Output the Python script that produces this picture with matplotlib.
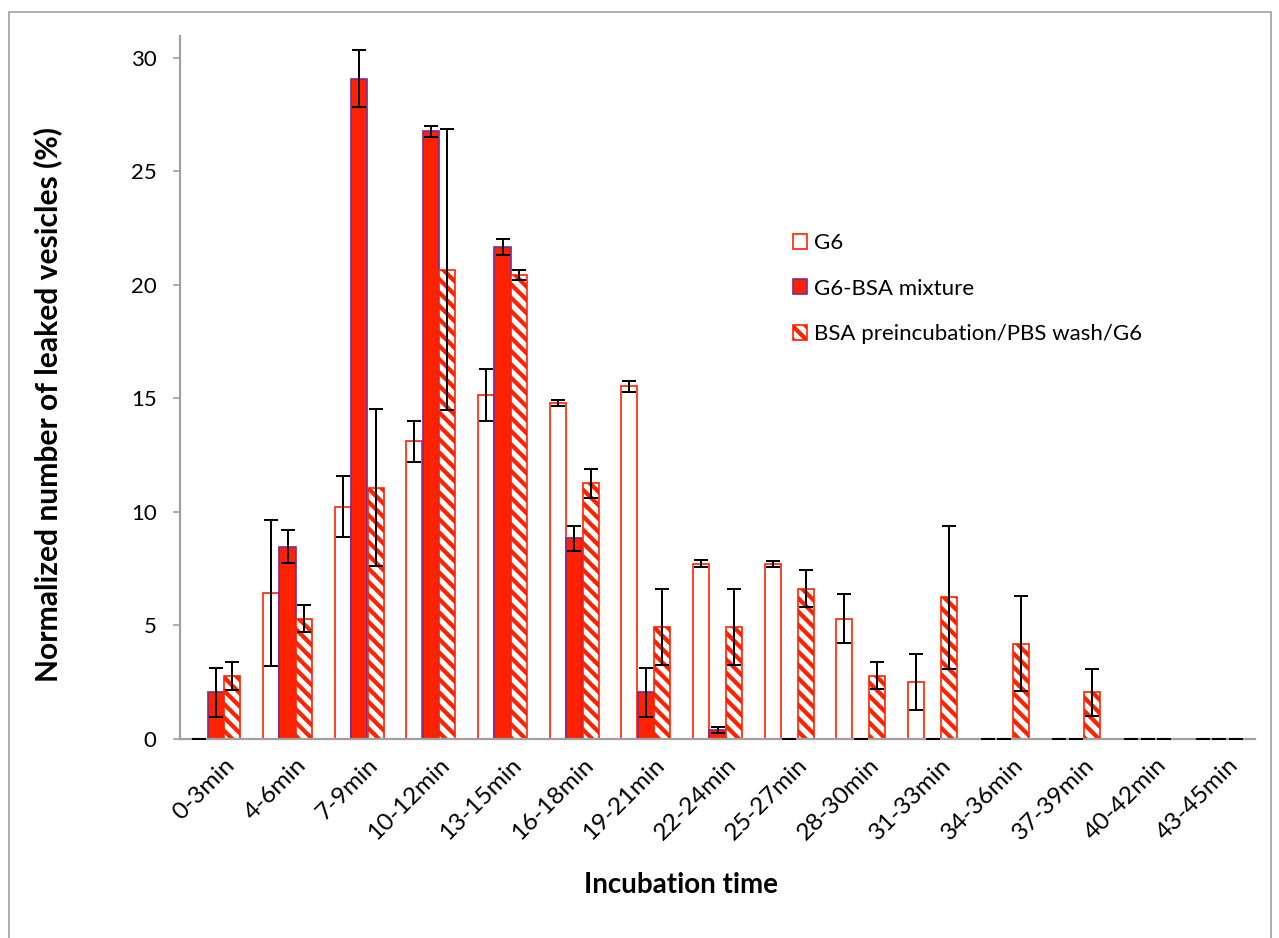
import numpy as np
import matplotlib
matplotlib.use('Agg')
import matplotlib.pyplot as plt
import matplotlib.transforms as mtransforms
from matplotlib.patches import Rectangle

# data
labels = ['0-3min', '4-6min', '7-9min', '10-12min', '13-15min', '16-18min',
          '19-21min', '22-24min', '25-27min', '28-30min', '31-33min',
          '34-36min', '37-39min', '40-42min', '43-45min']
g6 = [0, 6.42, 10.23, 13.1, 15.15, 14.79, 15.52, 7.72, 7.71, 5.30, 2.51, 0, 0, 0, 0]
g6_err = [0, 3.22, 1.35, 0.92, 1.16, 0.13, 0.26, 0.14, 0.14, 1.07, 1.25, 0, 0, 0, 0]
mix = [2.06, 8.47, 29.07, 26.75, 21.66, 8.84, 2.06, 0.40, 0, 0, 0, 0, 0, 0, 0]
mix_err = [1.07, 0.73, 1.25, 0.24, 0.36, 0.55, 1.07, 0.13, 0, 0, 0, 0, 0, 0, 0]
pre = [2.79, 5.30, 11.07, 20.66, 20.44, 11.25, 4.92, 4.92, 6.61, 2.79, 6.23, 4.20, 2.06, 0, 0]
pre_err = [0.62, 0.61, 3.47, 6.18, 0.22, 0.65, 1.67, 1.67, 0.82, 0.61, 3.13, 2.08, 1.03, 0, 0]

W, H, DPI = 1279, 938, 80
plt.rcParams['font.family'] = ['Lato', 'DejaVu Sans']
plt.rcParams['hatch.linewidth'] = 3.8

red = '#FF2200'
purple = '#7A2A90'
grey = '#A0A0A0'

fig = plt.figure(figsize=(W / DPI, H / DPI), dpi=DPI)
ax = fig.add_axes([180 / W, 1 - 739 / H, (1255 - 180) / W, (739 - 36) / H])

x = np.arange(len(labels))
bw = 0.225
off = 0.23

ax.bar(x - off, g6, bw, color='white', edgecolor=red, linewidth=1.5, label='G6', zorder=2)
ax.bar(x, mix, bw, color=red, edgecolor=purple, linewidth=1.5, label='G6-BSA mixture', zorder=2)
ax.bar(x + off, pre, bw, color='white', edgecolor=red, hatch='\\\\', linewidth=1.5,
       label='BSA preincubation/PBS wash/G6', zorder=2)

ekw = dict(fmt='none', ecolor='black', elinewidth=1.8, capsize=6, capthick=1.8, zorder=3)
ax.errorbar(x - off, g6, yerr=g6_err, **ekw)
ax.errorbar(x, mix, yerr=mix_err, **ekw)
ax.errorbar(x + off, pre, yerr=pre_err, **ekw)

ax.set_xlim(-0.5, len(labels) - 0.5)
ax.set_ylim(0, 30.95)
ax.set_yticks(range(0, 31, 5))
ax.set_xticks(x)
ax.set_xticklabels(labels, rotation=45, ha='right', va='top', rotation_mode='anchor', fontsize=22)
ax.tick_params(axis='x', length=0, pad=14)
ax.tick_params(axis='y', length=6, width=1.5, color=grey, labelsize=20, pad=15)
# nudge rotated labels a little to the right, like the original
shift = mtransforms.ScaledTranslation(8 / DPI, 0, fig.dpi_scale_trans)
for t in ax.get_xticklabels():
    t.set_transform(t.get_transform() + shift)

for s in ['top', 'right']:
    ax.spines[s].set_visible(False)
for s in ['left', 'bottom']:
    ax.spines[s].set_color(grey)
    ax.spines[s].set_linewidth(2)

fig.text(48 / W, 1 - 405 / H, 'Normalized number of leaked vesicles (%)', rotation=90,
         ha='center', va='center', fontsize=27, fontweight='bold')
fig.text(681 / W, 1 - 885 / H, 'Incubation time', ha='center', va='center',
         fontsize=25, fontweight='bold')

ax.legend(loc='upper left', bbox_to_anchor=(793 / W, 1 - 233 / H),
          bbox_transform=fig.transFigure, frameon=False, fontsize=20,
          handlelength=0.65, handleheight=0.65, handletextpad=0.3,
          labelspacing=1.15, borderpad=0, borderaxespad=0)

# outer chart frame
fig.add_artist(Rectangle((9 / W, -0.01), (1271 - 9) / W, 1.01 - 12 / H,
                         transform=fig.transFigure, fill=False,
                         edgecolor=grey, linewidth=1.5))

fig.savefig('out.png', dpi=DPI)
